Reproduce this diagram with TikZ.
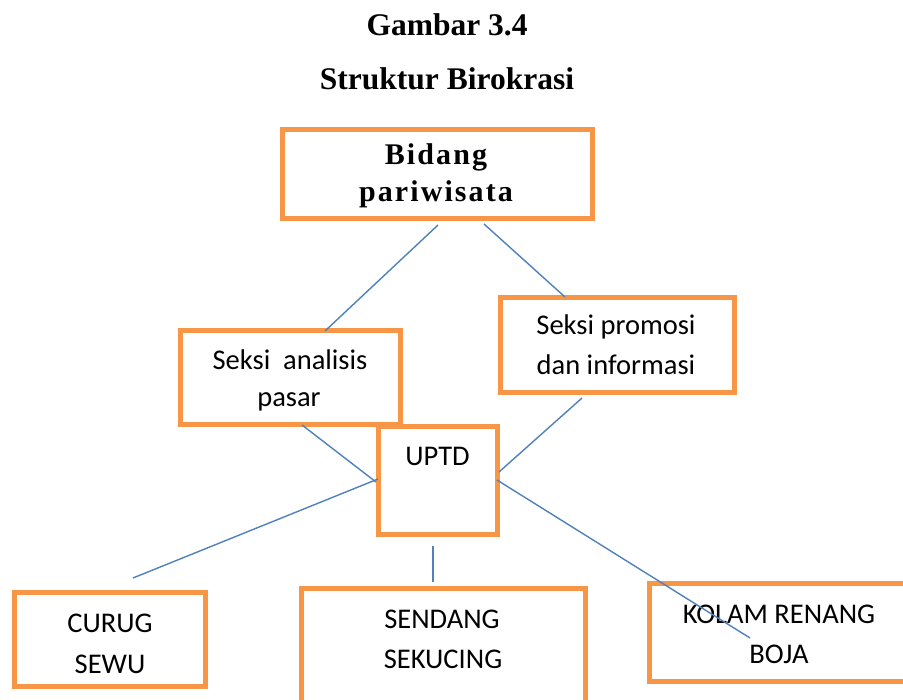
\documentclass[tikz,border=0pt]{standalone}
\usepackage{fontspec}
\setmainfont{Liberation Serif}
\newfontfamily\calib{Carlito}
\newfontfamily\spacedserif[LetterSpace=7]{Liberation Serif}
\definecolor{boxorange}{HTML}{F79646}
\definecolor{linkblue}{HTML}{4F81BD}
\tikzset{
  orgbox/.style={draw=boxorange, line width=5pt, fill=white},
  link/.style={draw=linkblue, line width=1.4pt},
  title/.style={font=\fontsize{31.5}{36}\selectfont\bfseries, anchor=base},
  headtxt/.style={font=\fontsize{30}{34}\spacedserif\bfseries, anchor=base},
  boxtxt/.style={font=\fontsize{28.5}{34}\calib, anchor=base, inner sep=0pt},
}
\begin{document}
\begin{tikzpicture}[x=1pt,y=-1pt]
\clip (0,0) rectangle (903,700);
\fill[white] (0,0) rectangle (903,700);
% titles
\node[title] (t1) at (447,36) {Gambar 3.4};
\node[title] (t2) at (447,90) {Struktur Birokrasi};
% boxes
\draw[orgbox] (282,130) rectangle (592,219);
\node[inner sep=0pt] (bidang) at (437,174.5) {};
\draw[orgbox] (180,331) rectangle (400,425);
\node[inner sep=0pt] (analisis) at (290,378) {};
\draw[orgbox] (500,298) rectangle (734,393);
\node[inner sep=0pt] (promosi) at (617,345.5) {};
\draw[orgbox] (378,427) rectangle (497,535);
\node[inner sep=0pt] (uptd) at (437.5,481) {};
\draw[orgbox] (14,592) rectangle (205,686);
\node[inner sep=0pt] (curug) at (109.5,639) {};
\draw[orgbox] (301,588) rectangle (585,704);
\node[inner sep=0pt] (sendang) at (443,646) {};
\draw[orgbox] (649,583) rectangle (912,681);
\node[inner sep=0pt] (kolam) at (780,632) {};
% texts
\node[headtxt] (bidang1) at (436,165) {Bidang};
\node[headtxt] (bidang2) at (436,202) {pariwisata};
\node[boxtxt] (ana1) at (290,370) {Seksi\ \ analisis};
\node[boxtxt] (ana2) at (289,407) {pasar};
\node[boxtxt] (pro1) at (616,335) {Seksi promosi};
\node[boxtxt] (pro2) at (616,375) {dan informasi};
\node[boxtxt] (uptdtxt) at (437.5,466) {UPTD};
\node[boxtxt] (cur1) at (110,632) {CURUG};
\node[boxtxt] (cur2) at (110,673) {SEWU};
\node[boxtxt] (sen1) at (442,628) {SENDANG};
\node[boxtxt] (sen2) at (443,668) {SEKUCING};
\node[boxtxt] (kol1) at (779,623) {KOLAM RENANG};
\node[boxtxt] (kol2) at (779,663) {BOJA};
% connector end points
\coordinate (a1) at (438,225);
\coordinate (a2) at (325,331);
\coordinate (b1) at (484,224);
\coordinate (b2) at (565,297);
\coordinate (c1) at (302,425);
\coordinate (c2) at (376,482);
\coordinate (d1) at (378,479);
\coordinate (d2) at (133,578);
\coordinate (e1) at (582,398);
\coordinate (e2) at (499,472);
\coordinate (f1) at (497,480);
\coordinate (f2) at (750,638);
\coordinate (g1) at (433,546);
\coordinate (g2) at (433,582);
\draw[link] (a1) -- (a2);
\draw[link] (b1) -- (b2);
\draw[link] (c1) -- (c2);
\draw[link] (d1) -- (d2);
\draw[link] (e1) -- (e2);
\draw[link] (f1) -- (f2);
\draw[link] (g1) -- (g2);
\end{tikzpicture}
\end{document}
